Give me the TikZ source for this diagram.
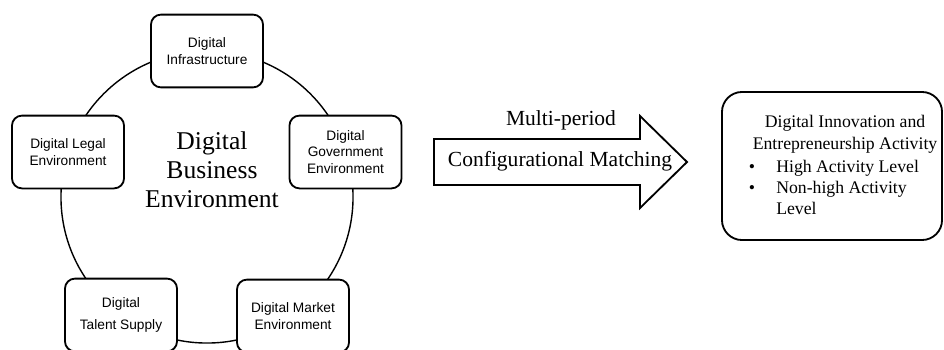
\documentclass[tikz,border=0pt]{standalone}
\usepackage{fontspec}
\setmainfont{Liberation Serif}
\newfontfamily\boxfont{Liberation Sans}
\begin{document}
\begin{tikzpicture}[x=0.025cm, y=-0.025cm,
    factor/.style={draw, line width=1.3pt, rounded corners=0.25cm, fill=white,
        minimum width=2.8cm, minimum height=1.82cm, align=center,
        font={\boxfont\fontsize{9.75}{12}\selectfont}},
    label/.style={font={\fontsize{15.3}{18}\selectfont}},
    outtext/.style={font={\fontsize{12.6}{15}\selectfont}}]
    \useasboundingbox (0,0) rectangle (944,349);

    % Ring of the digital business environment
    \node[draw, circle, line width=1pt, minimum size=7.3cm] (ring) at (207,197) {};
    \node[align=center, font={\fontsize{18.2}{20.7}\selectfont}] (hub) at (212,170)
        {Digital\\Business\\Environment};

    % Five factors around the ring
    \node[factor] (infra) at (207,51) {Digital\\Infrastructure};
    \node[factor] (legal) at (68,152) {Digital Legal\\Environment};
    \node[factor] (gov) at (345.5,152) {Digital\\Government\\Environment};
    \node[factor] (talent) at (121,315) {Digital\\[4pt]Talent Supply};
    \node[factor] (market) at (293,316) {Digital Market\\Environment};

    % Block arrow with its labels
    \draw[line width=1.3pt, fill=white] (434,139) -- (640,139) -- (640,116) -- (687,162)
        -- (640,208) -- (640,185) -- (434,185) -- cycle;
    \node[label, anchor=base] (period) at (561,125) {Multi-period};
    \node[label, anchor=base] (matching) at (560,166.5) {Configurational Matching};

    % Outcome box
    \node[draw, line width=1.3pt, rounded corners=0.5cm, minimum width=5.5cm,
        minimum height=3.7cm] (outcome) at (832,166) {};
    \node[outtext, anchor=base] (title1) at (845,127) {Digital Innovation and};
    \node[outtext, anchor=base] (title2) at (845,149) {Entrepreneurship Activity};
    \node[outtext, anchor=base] (dot1) at (752,172) {\textbullet};
    \node[outtext, anchor=base west, inner sep=0pt] (high) at (776,172) {High Activity Level};
    \node[outtext, anchor=base] (dot2) at (752,193) {\textbullet};
    \node[outtext, anchor=base west, inner sep=0pt] (nonhigh) at (776,193) {Non-high Activity};
    \node[outtext, anchor=base west, inner sep=0pt] (level) at (776,214) {Level};
\end{tikzpicture}
\end{document}
